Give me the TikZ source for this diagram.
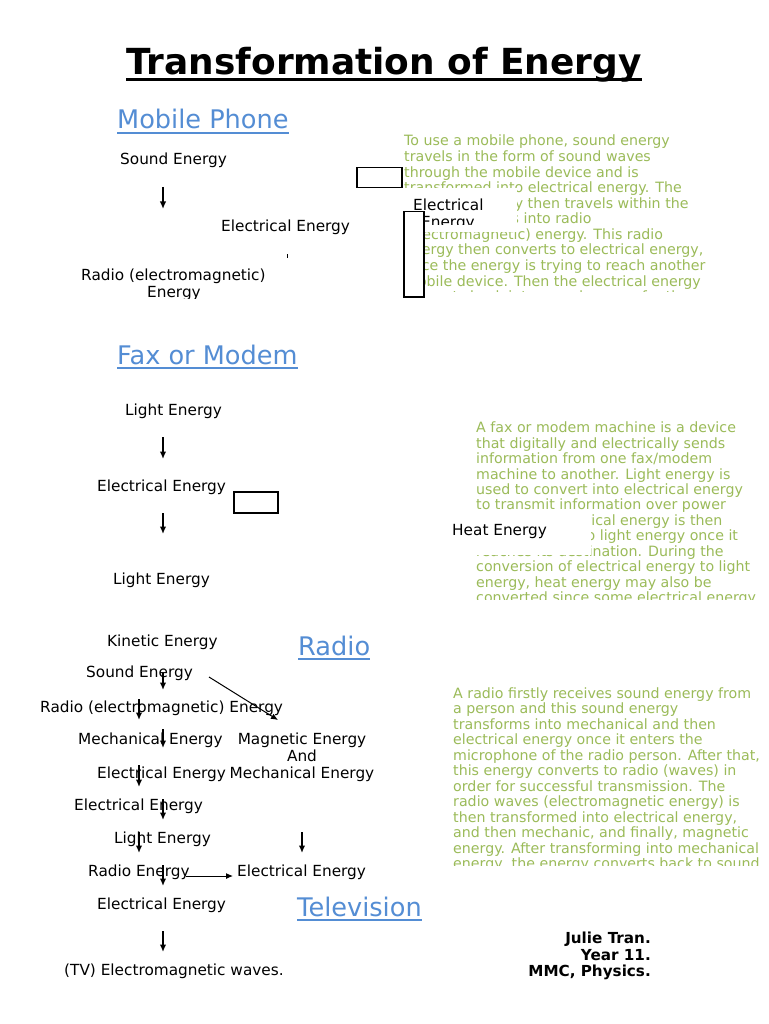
\documentclass[tikz,border=0pt]{standalone}
\usepackage{fontspec}
\setmainfont{DejaVu Sans}
\usetikzlibrary{arrows.meta}
\definecolor{hblue}{RGB}{84,141,212}
\definecolor{tgreen}{RGB}{155,187,89}
\begin{document}
\begin{tikzpicture}[x=1pt,y=-1pt,
 lbl/.style={anchor=base west,inner sep=0pt,font=\fontsize{15.3}{18}\selectfont},
 gtx/.style={anchor=base west,inner sep=0pt,text=tgreen,font=\fontsize{14.2}{16}\selectfont},
 head/.style={anchor=base west,inner sep=0pt,text=hblue,font=\fontsize{25.6}{30}\selectfont},
 uline/.style={hblue,line width=1.3pt},
 arr/.style={line width=1.5pt,-{Latex[length=7.5pt,width=6.5pt]}},
 thinarr/.style={line width=1pt,-{Latex[length=7pt,width=6pt]}},
 box/.style={draw=black,line width=1.5pt,fill=white},
 sig/.style={anchor=base east,inner sep=0pt,font=\bfseries\fontsize{15.2}{17}\selectfont}]

\useasboundingbox[fill=white] (0,0) rectangle (768,1024);

% title
\node[anchor=base,inner sep=0pt,font=\bfseries\fontsize{35.9}{40}\selectfont] (title) at (384,75) {Transformation of Energy};
\draw[line width=2.5pt] ([yshift=-4.5pt]title.base west) -- ([yshift=-4.5pt]title.base east);

% headings
\node[head] (hmp) at (117,129) {Mobile Phone};
\draw[uline] ([yshift=-4pt]hmp.base west) -- ([yshift=-4pt]hmp.base east);
\node[head] (hfm) at (117,364) {Fax or Modem};
\draw[uline] ([yshift=-4pt]hfm.base west) -- ([yshift=-4pt]hfm.base east);
\node[head] (hra) at (298,655) {Radio};
\draw[uline] ([yshift=-4pt]hra.base west) -- ([yshift=-4pt]hra.base east);
\node[head] (htv) at (297,916) {Television};
\draw[uline] ([yshift=-4pt]htv.base west) -- ([yshift=-4pt]htv.base east);

% paragraph 1
\begin{scope}
\clip (400,125) rectangle (768,291.5);
\foreach \t [count=\i] in {
 {To use a mobile phone, sound energy},
 {travels in the form of sound waves},
 {through the mobile device and is},
 {transformed into electrical energy. The},
 {electrical energy then travels within the},
 {phone, converts into radio},
 {(electromagnetic) energy. This radio},
 {energy then converts to electrical energy,},
 {once the energy is trying to reach another},
 {mobile device. Then the electrical energy},
 {converts back into sound energy for the}}
 \node[gtx] (pa\i) at (404,{146+(\i-1)*15.56}) {\t};
\end{scope}

% paragraph 2
\begin{scope}
\clip (470,415) rectangle (768,599.5);
\foreach \t [count=\i] in {
 {A fax or modem machine is a device},
 {that digitally and electrically sends},
 {information from one fax/modem},
 {machine to another. Light energy is},
 {used to convert into electrical energy},
 {to transmit information over power},
 {lines. The electrical energy is then},
 {transformed into light energy once it},
 {reaches its destination. During the},
 {conversion of electrical energy to light},
 {energy, heat energy may also be},
 {converted since some electrical energy}}
 \node[gtx] (pb\i) at (476,{432.7+(\i-1)*15.45}) {\t};
\end{scope}

% paragraph 3
\begin{scope}
\clip (448,680) rectangle (768,865.5);
\foreach \t [count=\i] in {
 {A radio firstly receives sound energy from},
 {a person and this sound energy},
 {transforms into mechanical and then},
 {electrical energy once it enters the},
 {microphone of the radio person. After that,},
 {this energy converts to radio (waves) in},
 {order for successful transmission. The},
 {radio waves (electromagnetic energy) is},
 {then transformed into electrical energy,},
 {and then mechanic, and finally, magnetic},
 {energy. After transforming into mechanical},
 {energy, the energy converts back to sound}}
 \node[gtx] (pc\i) at (453,{698+(\i-1)*15.5}) {\t};
\end{scope}

% mobile phone labels
\node[lbl] (m1) at (120,165) {Sound Energy};
\node[lbl] (m2) at (221,232) {Electrical Energy};
\node[lbl] (m3) at (81,280) {Radio (electromagnetic)};
\begin{scope}
\clip (60,284) rectangle (300,298.5);
\node[lbl] (m3b) at (147,297) {Energy};
\end{scope}
\draw[line width=1pt] (287,254) coordinate (t1) -- (287,258) coordinate (t2);
\node[box,minimum width=45pt,minimum height=20pt,inner sep=0pt,anchor=north west] (r1) at (356,167) {};
% white text box "Electrical Energy"
\fill[white] (403,188) rectangle (517,232);
\begin{scope}
\clip (403,188) rectangle (517,225);
\node[lbl] (m4) at (413,211) {Electrical};
\node[lbl] (m4b) at (421,228) {Energy};
\end{scope}
\node[box,minimum width=20pt,minimum height=85pt,inner sep=0pt,anchor=north west] (r2) at (403,211) {};

% fax labels
\node[lbl] (f1) at (125,415) {Light Energy};
\node[lbl] (f2) at (97,491) {Electrical Energy};
\node[lbl] (f3) at (113,584) {Light Energy};
\node[box,minimum width=44pt,minimum height=21pt,inner sep=0pt,anchor=north west] (r3) at (233,491) {};
\fill[white] (445,513) rectangle (591,554.5);
\node[lbl] (f4) at (452,535) {Heat Energy};

% radio / television labels
\node[lbl] (k1) at (107,646) {Kinetic Energy};
\node[lbl] (k2) at (86,677) {Sound Energy};
\node[lbl] (k3) at (40,712) {Radio (electromagnetic) Energy};
\node[lbl] (k4) at (78,744) {Mechanical Energy};
\node[lbl,anchor=base] (k5) at (302,744) {Magnetic Energy};
\node[lbl,anchor=base] (k5b) at (302,761) {And};
\node[lbl,anchor=base] (k5c) at (302,778) {Mechanical Energy};
\node[lbl] (k6) at (97,778) {Electrical Energy};
\node[lbl] (k7) at (74,810) {Electrical Energy};
\node[lbl] (k8) at (114,843) {Light Energy};
\node[lbl] (k9) at (88,876) {Radio Energy};
\node[lbl] (k10) at (237,876) {Electrical Energy};
\node[lbl] (k11) at (97,909) {Electrical Energy};
\node[lbl] (k12) at (64,975) {(TV) Electromagnetic waves.};

% vertical arrows
\foreach \n/\x/\ya/\yb in {a1/163/187/209, a2/163/437/459, a3/163/513/534,
  a4/163/673/690, a5/139/699/720, a6/163/729/748, a7/139/765/787,
  a8/163/799/820, a9/139/832/853, a10/302/832/853, a11/163/865/886,
  a12/163/931/952}{
  \coordinate (\n s) at (\x,\ya);
  \coordinate (\n e) at (\x,\yb);
  \draw[arr] (\n s) -- (\n e);
}
\coordinate (d1) at (209,677);
\coordinate (d2) at (278,720);
\draw[thinarr] (d1) -- (d2);
\coordinate (h1) at (186,876);
\coordinate (h2) at (233,876);
\draw[thinarr] (h1) -- (h2);

% signature
\node[sig] (s1) at (651,943) {Julie Tran.};
\node[sig] (s2) at (651,960) {Year 11.};
\node[sig] (s3) at (651,976) {MMC, Physics.};
\end{tikzpicture}
\end{document}
